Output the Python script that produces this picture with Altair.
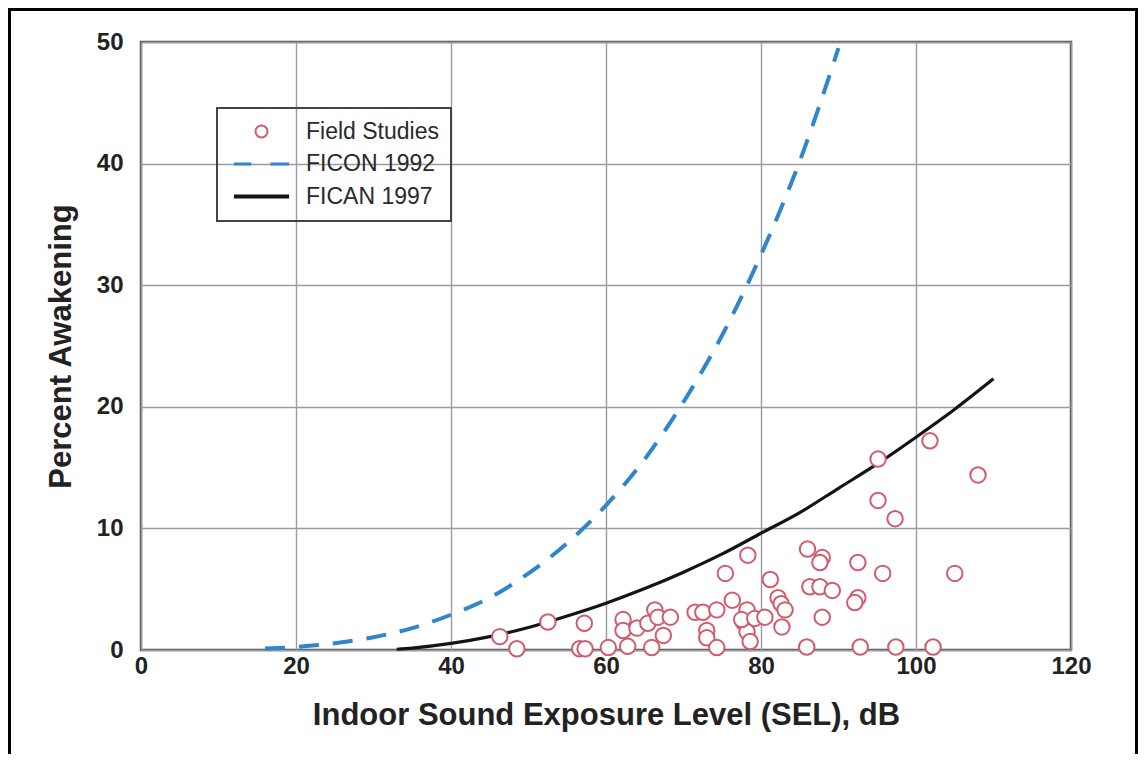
import altair as alt
import pandas as pd

FONT = "Liberation Sans"

# ---- data ----
series_names = ["Field Studies", "FICON 1992", "FICAN 1997"]

field_sel = [46.3, 48.5, 52.5, 57.2, 56.6, 57.3, 60.3, 62.2, 62.2, 62.8, 64.0, 65.4,
             66.3, 66.7, 68.3, 67.4, 65.9, 71.5, 72.5, 74.3, 76.3, 73.0, 73.0, 74.3,
             78.2, 77.7, 78.2, 78.6, 78.3, 75.4, 77.5, 79.2, 80.5, 81.2, 82.2, 82.6,
             83.1, 82.7, 86.0, 87.9, 87.6, 86.3, 87.6, 89.2, 87.9, 92.5, 95.7, 92.5,
             92.1, 85.9, 92.8, 97.4, 102.2, 95.1, 101.8, 108.0, 95.1, 97.3, 105.0]
field_pct = [1.1, 0.1, 2.3, 2.2, 0.1, 0.1, 0.2, 2.5, 1.6, 0.3, 1.8, 2.2,
             3.3, 2.7, 2.7, 1.2, 0.2, 3.1, 3.1, 3.3, 4.1, 1.6, 1.0, 0.2,
             3.3, 2.3, 1.5, 0.7, 7.8, 6.3, 2.5, 2.6, 2.7, 5.8, 4.3, 3.8,
             3.3, 1.9, 8.3, 7.6, 7.2, 5.2, 5.2, 4.9, 2.7, 7.2, 6.3, 4.3,
             3.9, 0.25, 0.25, 0.25, 0.25, 15.7, 17.2, 14.4, 12.3, 10.8, 6.3]

ficon_sel = [16, 20, 25, 30, 35, 40, 45, 50, 55, 60, 65, 70, 75, 80, 85, 90]
ficon_pct = [0.12, 0.25, 0.55, 1.05, 1.8, 2.9, 4.3, 6.3, 8.8, 11.9, 15.7, 20.4,
             25.9, 32.5, 40.2, 49.5]

fican_sel = [33, 35, 40, 45, 50, 55, 60, 65, 70, 75, 80, 85, 90, 95, 100, 105, 110]
fican_pct = [0.06, 0.16, 0.54, 1.1, 1.85, 2.8, 3.85, 5.05, 6.4, 7.9, 9.6, 11.3,
             13.3, 15.3, 17.5, 19.8, 22.3]

x_ticks = [0, 20, 40, 60, 80, 100, 120]
y_ticks = [0, 10, 20, 30, 40, 50]

# ---- tables ----
field_df = pd.DataFrame({"sel": field_sel, "pct": field_pct, "series": series_names[0]})
ficon_df = pd.DataFrame({"sel": ficon_sel, "pct": ficon_pct})
fican_df = pd.DataFrame({"sel": fican_sel, "pct": fican_pct})

x_enc = alt.X("sel:Q",
              scale=alt.Scale(domain=[0, 120], nice=False, zero=False),
              axis=alt.Axis(values=x_ticks, title="Indoor Sound Exposure Level (SEL), dB",
                            format="d"))
y_enc = alt.Y("pct:Q",
              scale=alt.Scale(domain=[0, 50], nice=False, zero=False),
              axis=alt.Axis(values=y_ticks, title="Percent Awakening", format="d"))

legend = alt.Legend(title=None, orient="none", legendX=76, legendY=66,
                    padding=12, symbolOffset=21, labelOffset=33, symbolSize=144,
                    rowPadding=8.5, labelFontSize=23, labelFont=FONT, labelColor="#2a2a2a",
                    strokeColor="#444")

color_scale = alt.Scale(domain=series_names, range=["#d05c6c", "#2f86cc", "#141414"])
shape_scale = alt.Scale(domain=series_names,
                        range=["circle", "M-4.6,0L-1.7,0M1.5,0L4.6,0", "M-4.6,0L4.6,0"])
width_scale = alt.Scale(domain=series_names, range=[2, 4, 3.5])

ficon = alt.Chart(ficon_df).mark_line(
    color="#2f86cc", strokeWidth=4, strokeDash=[20, 14], interpolate="monotone"
).encode(x=x_enc, y=y_enc)

fican = alt.Chart(fican_df).mark_line(
    color="#141414", strokeWidth=3.2, interpolate="monotone"
).encode(x=x_enc, y=y_enc)

points = alt.Chart(field_df).mark_point(
    filled=False, fill="white", fillOpacity=1, size=240, opacity=1
).encode(
    x=x_enc, y=y_enc,
    color=alt.Color("series:N", scale=color_scale, legend=legend),
    shape=alt.Shape("series:N", scale=shape_scale, legend=legend),
    strokeWidth=alt.StrokeWidth("series:N", scale=width_scale, legend=legend),
)

frame = alt.Chart(pd.DataFrame({"k": [0]})).mark_rect(
    fill="transparent", stroke="#000000", strokeWidth=3
).encode(x=alt.value(-131.5), x2=alt.value(995.5), y=alt.value(-32.5), y2=alt.value(730))

chart = alt.layer(ficon, fican, points, frame).properties(
    width=930, height=608,
    autosize=alt.AutoSizeParams(type="none"),
    padding={"left": 133, "top": 34, "right": 67, "bottom": 104},
    background="white",
).configure_view(
    stroke="#555555", strokeWidth=2.5
).configure_axis(
    domain=False, ticks=False, grid=True, gridColor="#9a9aa8", gridWidth=1.4,
    labelFlush=False,
    labelFont=FONT, labelFontSize=24, labelColor="#222222", labelFontWeight="bold",
    titleFont=FONT, titleFontSize=31, titleColor="#222222", titleFontWeight="bold",
).configure_axisX(
    labelPadding=4, titlePadding=22
).configure_axisY(
    labelPadding=18, titlePadding=19
).configure_legend(
    strokeWidth=2
)

chart.save("out.html", embed_options={"renderer": "svg", "actions": False})
